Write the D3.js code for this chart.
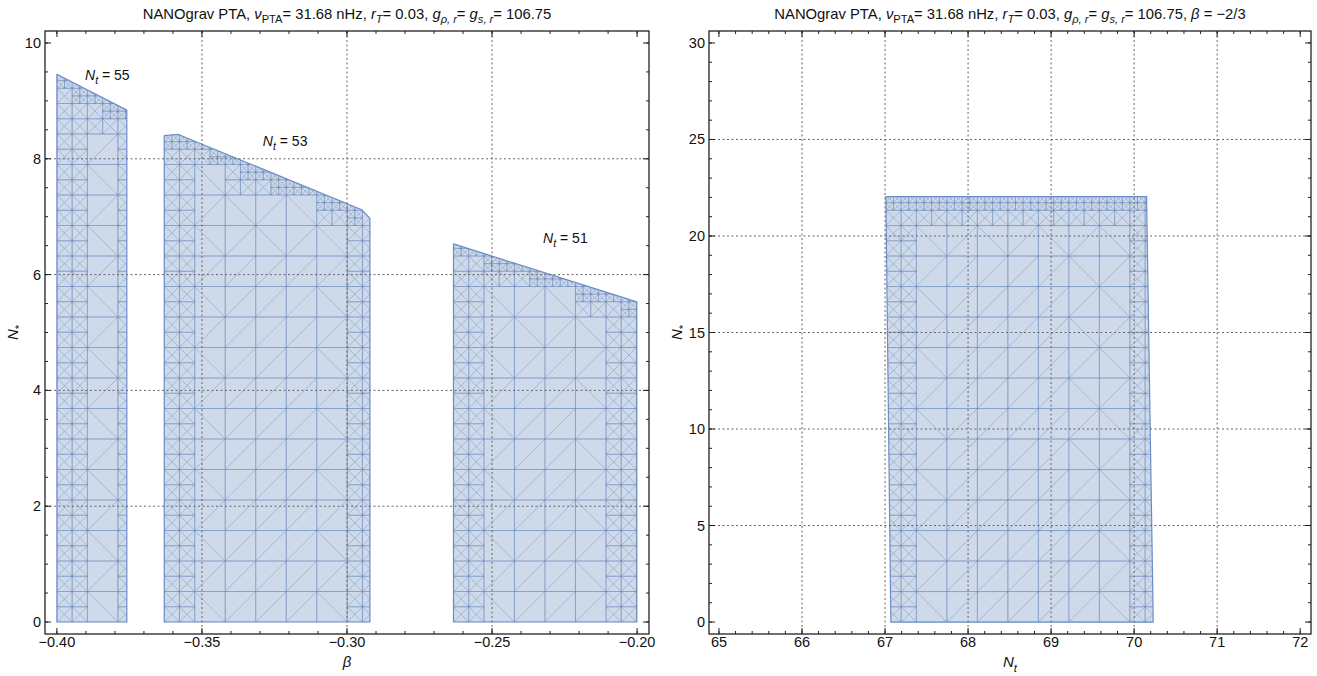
<!DOCTYPE html>
<html>
<head>
<meta charset="utf-8">
<script src="https://cdn.jsdelivr.net/npm/d3@7"></script>
<style>
body { margin: 0; background: #fff; }
text { font-family: "Liberation Sans", Arial, sans-serif; fill: #111; }
</style>
</head>
<body>
<svg id="chart" width="1317" height="676"></svg>
<script>
"use strict";

// ---- data ----
var betaTicks = [-0.40, -0.35, -0.30, -0.25, -0.20];
var nStarTicksLeft = [0, 2, 4, 6, 8, 10];
var ntTicks = [65, 66, 67, 68, 69, 70, 71, 72];
var nStarTicksRight = [0, 5, 10, 15, 20, 25, 30];

// allowed regions, [beta, N*]
var regionNt55 = [[-0.40, 0], [-0.40, 9.46], [-0.3759, 8.84], [-0.3759, 0]];
var regionNt53 = [[-0.3630, 0], [-0.3630, 8.40], [-0.3581, 8.42], [-0.2949, 7.12], [-0.2921, 6.97], [-0.2921, 0]];
var regionNt51 = [[-0.2633, 0], [-0.2633, 6.53], [-0.2001, 5.53], [-0.2001, 0]];
// allowed region, [Nt, N*] for beta = -2/3
var regionBeta23 = [[67.07, 0], [67.01, 22.04], [70.15, 22.04], [70.23, 0]];

var regionLabels = [
    {nt: 55, beta: -0.3903, nStar: 9.36},
    {nt: 53, beta: -0.3290, nStar: 8.22},
    {nt: 51, beta: -0.2324, nStar: 6.55}
];

var titleParts = [
    {t: "NANOgrav PTA,  "}, {t: "ν", it: true}, {t: "PTA", sub: true}, {t: "= 31.68 nHz,  "},
    {t: "r", it: true}, {t: "T", it: true, sub: true}, {t: "= 0.03, "},
    {t: "g", it: true}, {t: "ρ, r", it: true, sub: true}, {t: "= "},
    {t: "g", it: true}, {t: "s, r", it: true, sub: true}, {t: "= 106.75"}
];

var blue = "#5e81b5";
var svg = d3.select("#chart");

function minus(s) { return s.replace("-", "\u2212"); }

function richText(sel, parts, size) {
    var shift = 0;
    parts.forEach(function(p) {
        var want = p.sub ? size * 0.3 : 0;
        sel.append("tspan")
            .attr("dy", want - shift)
            .attr("font-size", p.sub ? size * 0.75 : size)
            .attr("font-style", p.it ? "italic" : null)
            .text(p.t);
        shift = want;
    });
}

function distSeg(px, py, a, b) {
    var dx = b[0] - a[0], dy = b[1] - a[1];
    var l2 = dx * dx + dy * dy;
    var t = l2 ? Math.max(0, Math.min(1, ((px - a[0]) * dx + (py - a[1]) * dy) / l2)) : 0;
    var qx = a[0] + t * dx, qy = a[1] + t * dy;
    return Math.hypot(px - qx, py - qy);
}

// adaptive triangulation look of the region mesh, built in pixel space
function meshPath(pts, size) {
    var xs = pts.map(function(p) { return p[0]; });
    var ys = pts.map(function(p) { return p[1]; });
    var bx0 = d3.min(xs), bx1 = d3.max(xs), by0 = d3.min(ys), by1 = d3.max(ys);
    var edges = [];
    pts.forEach(function(a, i) {
        var b = pts[(i + 1) % pts.length];
        if (Math.abs(a[1] - by1) < 0.5 && Math.abs(b[1] - by1) < 0.5) return;
        edges.push({a: a, b: b, flat: Math.abs(b[0] - a[0]) > Math.abs(b[1] - a[1])});
    });
    var path = d3.path();
    function seg(x1, y1, x2, y2) { path.moveTo(x1, y1); path.lineTo(x2, y2); }

    function visit(x, y, s, depth, i, j) {
        var cx = x + s / 2, cy = y + s / 2;
        var dFlat = Infinity, dSide = Infinity;
        edges.forEach(function(e) {
            var d = distSeg(cx, cy, e.a, e.b);
            if (e.flat) dFlat = Math.min(dFlat, d);
            else dSide = Math.min(dSide, d);
        });
        var dMin = Math.min(dFlat, dSide);
        var inside = d3.polygonContains(pts, [cx, cy]);
        if (!inside && dMin > s * 0.75) return;
        var split = (dFlat < s * 0.75 && depth < 2) || (dSide < s * 0.55 && depth < 1);
        if (split) {
            var h = s / 2;
            visit(x, y, h, depth + 1, i, j);
            visit(x + h, y, h, depth + 1, i, j);
            visit(x, y + h, h, depth + 1, i, j);
            visit(x + h, y + h, h, depth + 1, i, j);
            return;
        }
        seg(x, y, x + s, y);
        seg(x, y + s, x + s, y + s);
        seg(x, y, x, y + s);
        seg(x + s, y, x + s, y + s);
        if (depth > 0) {
            seg(x, y, x + s, y + s);
            seg(x, y + s, x + s, y);
        } else if (dMin < s * 2.2 && (i + j) % 2 === 1) {
            seg(x, y, x + s, y + s);
        } else {
            seg(x, y + s, x + s, y);
        }
    }

    var j = 0;
    for (var y = by1 - size; y > by0 - size; y -= size, j++) {
        var i = 0;
        for (var x = bx0; x < bx1; x += size, i++) visit(x, y, size, 0, i, j);
    }
    return path.toString();
}

function drawPanel(cfg, idx) {
    var b = cfg.box;
    var x = d3.scaleLinear().domain(cfg.xDomain).range([b.x0, b.x1]);
    var y = d3.scaleLinear().domain(cfg.yDomain).range([b.y1, b.y0]);
    var g = svg.append("g");

    // regions
    cfg.regions.forEach(function(reg, k) {
        var px = reg.map(function(p) { return [x(p[0]), y(p[1])]; });
        var line = d3.line().curve(d3.curveLinearClosed);
        var clipId = "clip" + idx + "_" + k;
        g.append("clipPath").attr("id", clipId).append("path").attr("d", line(px));
        g.append("path")
            .attr("d", line(px))
            .attr("fill", blue)
            .attr("fill-opacity", 0.3);
        g.append("path")
            .attr("clip-path", "url(#" + clipId + ")")
            .attr("d", meshPath(px, cfg.cell))
            .attr("fill", "none")
            .attr("stroke", blue)
            .attr("stroke-opacity", 0.38)
            .attr("stroke-width", 1);
        g.append("path")
            .attr("d", line(px))
            .attr("fill", "none")
            .attr("stroke", "#6a8dc8")
            .attr("stroke-width", 1.2)
            .attr("stroke-linejoin", "round");
    });

    // grid
    var grid = g.append("g")
        .attr("stroke", "#666")
        .attr("stroke-width", 1)
        .attr("stroke-dasharray", "2,2.5");
    grid.selectAll(".gx").data(cfg.xTicks.slice(1, -1)).enter().append("line")
        .attr("x1", function(d) { return x(d); }).attr("x2", function(d) { return x(d); })
        .attr("y1", b.y0).attr("y2", b.y1);
    grid.selectAll(".gy").data(cfg.yTicks.slice(1, -1)).enter().append("line")
        .attr("y1", function(d) { return y(d); }).attr("y2", function(d) { return y(d); })
        .attr("x1", b.x0).attr("x2", b.x1);

    // frame ticks on all four sides, pointing in
    function minors(dom, step) {
        var lo = Math.ceil(dom[0] / step - 1e-9), hi = Math.floor(dom[1] / step + 1e-9);
        return d3.range(lo, hi + 1).map(function(k) { return k * step; });
    }
    var ticks = g.append("g").attr("stroke", "#222").attr("stroke-width", 1);
    var xm = minors(cfg.xDomain, cfg.xMinor), ym = minors(cfg.yDomain, cfg.yMinor);
    [[xm, 3], [cfg.xTicks, 6]].forEach(function(t) {
        ticks.selectAll(null).data(t[0]).enter().append("line")
            .attr("x1", function(d) { return x(d); }).attr("x2", function(d) { return x(d); })
            .attr("y1", b.y1).attr("y2", b.y1 - t[1]);
        ticks.selectAll(null).data(t[0]).enter().append("line")
            .attr("x1", function(d) { return x(d); }).attr("x2", function(d) { return x(d); })
            .attr("y1", b.y0).attr("y2", b.y0 + t[1]);
    });
    [[ym, 3], [cfg.yTicks, 6]].forEach(function(t) {
        ticks.selectAll(null).data(t[0]).enter().append("line")
            .attr("y1", function(d) { return y(d); }).attr("y2", function(d) { return y(d); })
            .attr("x1", b.x0).attr("x2", b.x0 + t[1]);
        ticks.selectAll(null).data(t[0]).enter().append("line")
            .attr("y1", function(d) { return y(d); }).attr("y2", function(d) { return y(d); })
            .attr("x1", b.x1).attr("x2", b.x1 - t[1]);
    });

    g.append("rect")
        .attr("x", b.x0).attr("y", b.y0)
        .attr("width", b.x1 - b.x0).attr("height", b.y1 - b.y0)
        .attr("fill", "none").attr("stroke", "#222").attr("stroke-width", 1.3);

    // tick labels
    g.selectAll(".xl").data(cfg.xTicks).enter().append("text")
        .attr("x", function(d) { return x(d); })
        .attr("y", b.y1 + 13)
        .attr("text-anchor", "middle")
        .attr("font-size", 14.5)
        .text(cfg.xFormat);
    g.selectAll(".yl").data(cfg.yTicks).enter().append("text")
        .attr("x", b.x0 - 4)
        .attr("y", function(d) { return y(d) + 5; })
        .attr("text-anchor", "end")
        .attr("font-size", 14.5)
        .text(function(d) { return d; });

    // region labels
    (cfg.labels || []).forEach(function(l) {
        var t = g.append("text").attr("x", x(l.beta)).attr("y", y(l.nStar));
        richText(t, [{t: "N", it: true}, {t: "t", it: true, sub: true}, {t: " =  " + l.nt}], 14);
    });

    // title and axis labels
    var cx = (b.x0 + b.x1) / 2;
    var title = g.append("text").attr("x", cx).attr("y", 19).attr("text-anchor", "middle");
    richText(title, cfg.title, 14.8);

    var xl = g.append("text").attr("x", cx).attr("y", b.y1 + 33).attr("text-anchor", "middle");
    richText(xl, cfg.xLabel, 15);

    var yl = g.append("text")
        .attr("transform", "translate(" + (b.x0 - 27) + "," + ((b.y0 + b.y1) / 2) + ") rotate(-90)")
        .attr("text-anchor", "middle");
    richText(yl, [{t: "N", it: true}, {t: "*", sub: true}], 15);
}

var panels = [
    {
        box: {x0: 45, x1: 649, y0: 31, y1: 634},
        xDomain: [-0.4041, -0.1959], yDomain: [-0.207, 10.207],
        xTicks: betaTicks, yTicks: nStarTicksLeft, xMinor: 0.01, yMinor: 0.5,
        xFormat: function(d) { return minus(d.toFixed(2)); },
        regions: [regionNt55, regionNt53, regionNt51],
        labels: regionLabels,
        cell: 30.5,
        title: titleParts,
        xLabel: [{t: "β", it: true}]
    },
    {
        box: {x0: 709, x1: 1311, y0: 31, y1: 634},
        xDomain: [64.88, 72.13], yDomain: [-0.62, 30.62],
        xTicks: ntTicks, yTicks: nStarTicksRight, xMinor: 0.2, yMinor: 1,
        xFormat: function(d) { return d; },
        regions: [regionBeta23],
        cell: 30.5,
        title: titleParts.concat([{t: ", "}, {t: "β", it: true}, {t: " = \u22122/3"}]),
        xLabel: [{t: "N", it: true}, {t: "t", it: true, sub: true}]
    }
];

panels.forEach(drawPanel);
</script>
</body>
</html>
